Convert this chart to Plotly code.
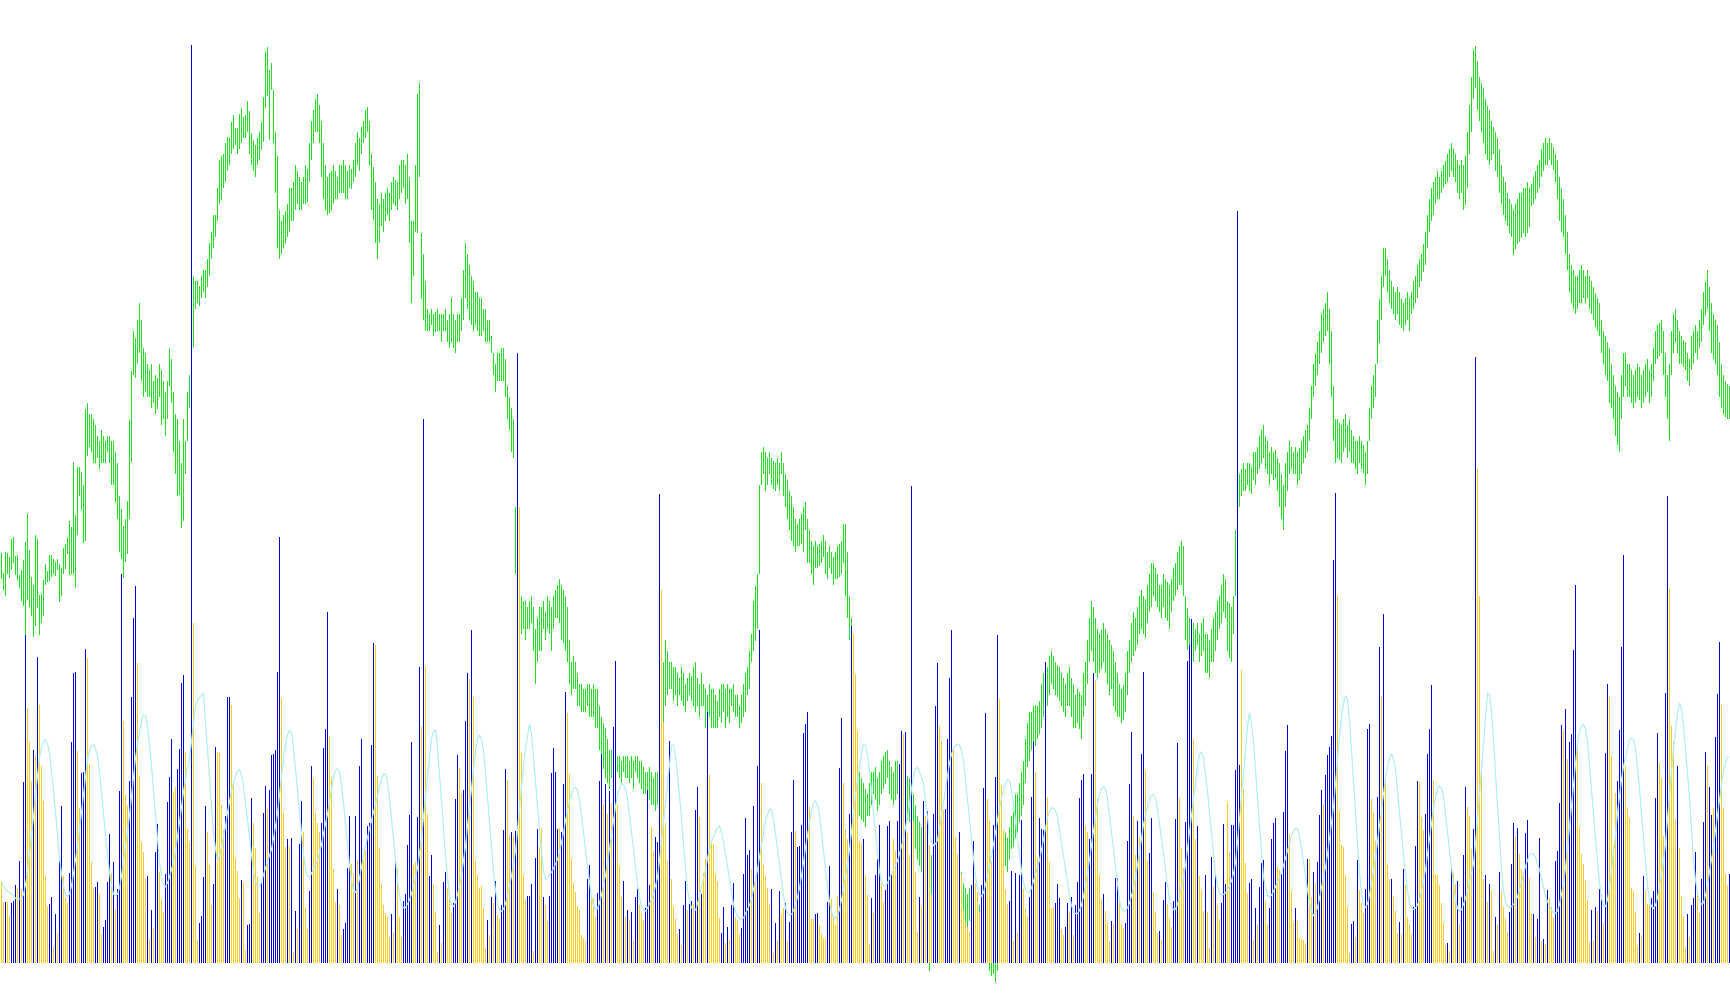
import plotly.graph_objects as go
import pandas as pd

# ---- volume histogram (one value per bar), colour code b = blue, y = yellow
volume = [
245,182,182,182,140,179,185,233,224,305,
221,542,983,765,662,545,638,623,917,773,
590,485,260,170,176,197,47,146,86,305,
470,260,194,179,269,662,869,872,635,464,
569,572,941,914,596,302,224,227,242,206,
86,107,128,242,386,269,302,161,221,515,
1166,725,503,473,545,797,1034,1130,899,560,
362,332,254,260,71,158,104,332,416,272,
191,152,266,482,557,671,512,527,581,641,
839,863,632,401,362,2753,1019,290,68,119,
140,257,470,392,293,173,236,647,632,629,
473,398,440,797,797,773,542,314,275,194,
248,242,38,113,116,494,419,344,260,149,
239,449,530,461,518,623,626,638,872,1277,
794,449,347,371,350,
374,32,155,101,356,485,392,164,101,215,
590,554,449,419,392,419,644,701,1052,680,
554,281,182,221,173,83,101,119,284,440,
296,269,440,305,590,671,308,335,410,419,
653,959,953,560,344,236,173,149,137,77,
146,89,311,281,137,77,185,206,353,443,
662,293,302,437,887,710,1631,890,446,260,
323,236,152,32,113,59,242,272,224,209,
149,179,491,623,584,509,518,725,869,851,
998,797,305,263,224,230,164,44,128,83,
197,179,245,143,131,173,398,581,548,383,
392,383,395,1829,1367,629,263,191,200,200,
236,35,314,401,347,404,197,173,125,200,
569,644,572,401,404,392,536,812,749,566,
311,239,212,170,158,
83,74,62,251,293,200,194,137,209,545,
626,476,536,446,515,479,707,905,473,290,
197,245,137,158,128,152,65,197,221,173,
149,128,164,518,233,407,335,377,362,1406,
1118,722,419,305,665,251,170,131,86,101,
53,173,245,158,176,185,176,458,527,437,
206,269,311,752,563,356,356,266,245,134,
88,167,59,107,68,173,239,137,128,86,
104,266,434,323,338,281,470,260,590,998,
539,293,260,224,176,221,29,119,65,215,
146,164,179,65,122,392,548,395,347,350,
413,689,716,752,467,131,131,146,149,113,
86,74,74,182,290,191,143,113,200,584,
734,539,401,371,446,1010,986,866,698,365,
359,371,263,203,56,
194,149,263,311,413,239,182,218,410,425,
266,371,335,425,596,695,686,692,389,323,
1430,422,272,92,197,170,485,440,455,353,
206,446,770,899,710,665,458,461,671,854,
998,641,377,326,392,266,158,122,107,92,
233,365,239,212,152,233,524,749,491,428,
306,413,557,983,791,533,398,221,176,185,
275,65,269,89,263,428,221,161,137,197,
497,662,572,314,434,401,398,902,497,302,
164,167,179,236,194,101,83,107,179,152,
197,83,173,242,494,548,566,413,392,371,
566,869,848,491,263,191,206,155,119,65,
125,116,254,254,188,116,104,119,365,536,
692,440,323,425,377,626,872,578,305,329,
434,212,152,89,95,
68,188,242,176,134,107,185,431,659,494,
344,284,422,905,953,1031,671,371,410,260,
218,155,263,152,44,317,230,263,173,131,
179,416,236,482,332,413,413,578,2255,593,
878,521,299,209,239,251,68,164,113,227,
299,308,185,113,164,371,419,434,287,278,
269,452,635,713,386,215,122,164,125,74,
71,68,59,311,308,197,272,239,302,443,
518,476,563,623,647,680,1208,1409,1103,455,
353,347,263,167,29,116,125,77,308,218,
179,149,221,701,716,491,452,365,497,947,
800,1046,548,293,251,251,200,155,89,122,
86,281,233,137,113,86,167,350,545,542,
437,398,446,626,701,833,548,266,263,233,
179,119,53,59,35,
284,269,236,245,116,197,323,527,467,440,
341,401,1817,1484,1100,599,251,263,182,236,
218,35,137,113,272,215,167,134,92,152,
296,419,380,404,326,281,272,389,428,254,
146,146,77,131,374,65,71,56,218,194,
167,137,305,335,479,713,698,761,611,662,
686,938,1133,662,407,326,296,248,188,62,
158,65,167,155,221,203,119,629,836,797,
620,353,509,545,698,947,1223,590,464,434,
224,215,152,50,89,83,260,215,176,173,
194,215,494,689,599,554,380,809,1400,1124,
710,662,431,590,344,200,137,47,146,77,
173,194,332,212,149,251,422,632,593,527,
443,464,677,806,962,773,464,266,233,266,
]

vol_color = (
"yybyybbbyb" "ybbyyybyby" "yyyybbybyb" "byyybbbbyy" "bbbyyyybby"
"ybbbbybybb" "byyybbbbyy" "yyybybybby" "yybbbbyybb" "bbyyybyyyb"
"bbbyyybbyy" "yybbbyyyyy" "byybbbyyyy" "bbbybbbbbb" "yyyby"
"bybybbyyyb" "byyyybbbby" "yyybyybbbb" "yybybbyybb" "bbyyyyyyyy"
"bybyyybbbb" "byybbybyyb" "byyybybbyy" "ybbbyybbby" "byyyyyyyby"
"bybyybbbyy" "bybbyyyybb" "bybbyybyyb" "bbbbybbbyy" "yyyyy"
"yyybbyyybb" "bybybybbyy" "ybybybybby" "yybbbyybbb" "yyyybyyyyb"
"ybbybbybby" "byybyyyyyy" "bbybybbyyy" "bbbbbybybb" "yyyyybybyb"
"yybybbbybb" "bbbbyyybby" "yyybbyyyyb" "byyybbyyyy" "ybyyy"
"bybbbyybbb" "byybbbybyy" "byyybybyby" "ybbbyyybbb" "byyybyyyyy"
"bbyyybbbyy" "ybbbyyyyyb" "bybybbyyyb" "bbyybbbbyy" "yybbbyybby"
"bybbbbbyyb" "bbyyyybyyy" "bybbyyybbb" "byybybbyyb" "byyyb"
"ybbyyybbby" "yybbbbyyby" "yybyybybyy" "bbbyybbbbb" "yyyybbybyb"
"bbyybbbbyy" "bbbbyyybyy" "yyybyybybb" "bybbbbbbyy" "yyyyybbyby"
"yybbbyyybb" "ybyyybyyyb" "ybyyyybbby" "yybbbbyyyy" "yyyby"
"byybybbbyy" "ybbyyyybyb" "yybybyyyyb" "bbybyyybby" "ybybbybyby"
"yybbbbybyb" "bbbyyyyyyy" "bybybbybby" "yyybbbbyyy" "yyyybybyyy"
"bbbbyyybby" "yyybyyyyby" "bbbyybbbyb" "bybbbyyyyb"
)

# ---- price bars, one high and one low per bar (price points)
price_high = [
410,392,411,410,406,422,424,407,408,390,
394,403,420,445,412,388,381,426,422,372,
373,385,400,393,408,408,404,402,404,400,
396,414,418,423,439,433,492,444,488,488,
483,471,540,546,536,536,531,526,516,511,
521,516,511,516,516,511,511,501,491,461,
450,434,441,457,530,575,611,605,621,636,
621,596,591,581,576,581,566,571,568,581,
576,566,556,566,596,586,556,536,531,511,
491,531,511,556,571,601,661,656,656,652,
661,666,666,676,691,701,716,716,741,766,
770,771,781,787,786,800,807,795,795,808,
813,805,807,819,810,790,784,780,786,791,
800,823,864,868,848,854,829,791,770,721,
711,716,720,726,741,741,746,761,756,751,
746,751,761,758,781,801,811,821,826,816,
801,781,761,751,754,756,761,756,751,761,
761,766,761,756,761,758,766,781,791,786,
796,801,811,814,801,771,760,746,731,726,
736,731,736,741,736,746,751,748,746,761,
766,766,761,771,751,711,711,761,826,836,
700,681,656,631,626,631,626,628,631,626,
626,626,631,621,626,641,626,621,626,626,
641,666,691,681,671,661,656,646,646,641,
641,631,631,621,621,606,591,581,591,591,
596,596,586,561,551,541,531,451,411,371,
371,366,366,361,366,371,361,341,351,361,
361,366,356,371,366,361,371,376,381,386,
381,376,371,361,331,311,316,311,301,291,
291,286,286,291,291,286,291,286,286,271,
261,256,251,241,231,231,226,231,226,226,
221,226,226,226,221,226,221,226,226,221,
221,216,211,211,216,211,206,211,211,221,
261,311,331,321,311,311,306,306,301,296,
306,301,291,296,301,298,306,311,296,291,
301,291,286,281,291,286,286,281,276,286,
291,291,286,291,286,286,291,281,281,271,
281,291,301,306,321,336,366,380,391,471,
501,506,501,496,501,496,493,491,496,491,
501,491,481,476,466,461,451,441,436,441,
445,451,456,441,431,421,416,421,416,418,
421,426,421,411,416,411,406,411,416,418,
421,436,436,411,371,351,311,231,221,211,
206,201,196,191,201,211,211,216,206,211,
221,226,229,231,221,216,211,221,221,211,
211,201,211,208,206,196,191,181,171,166,
161,151,146,146,141,136,141,141,136,131,
121,126,121,126,124,116,111,121,111,116,
121,111,106,101,106,108,111,101,96,91,
91,81,76,71,66,56,58,51,61,131,
141,151,156,151,161,171,175,191,191,201,
211,221,241,256,266,266,271,272,271,276,
291,301,311,306,316,321,316,311,308,306,
301,296,291,301,306,296,291,281,286,284,
281,301,311,331,351,366,361,351,341,336,
340,346,341,336,331,326,321,311,301,291,
286,290,301,321,331,346,356,351,361,371,
376,371,368,381,391,401,401,396,391,381,
381,391,386,383,381,386,396,401,411,416,
421,416,371,360,351,341,346,341,346,336,
346,351,336,336,331,341,351,356,366,371,
381,391,386,366,364,361,371,431,471,481,
486,491,486,491,491,488,501,501,506,516,
521,526,516,511,501,506,501,503,496,491,
481,471,491,501,511,506,501,506,501,505,
511,516,521,526,541,561,581,590,601,611,
626,631,636,646,631,611,561,531,531,528,
526,531,536,526,531,521,516,511,511,516,
511,508,501,511,541,561,571,581,621,640,
661,686,686,676,666,656,651,646,651,646,
640,636,641,646,641,646,656,661,671,676,
681,690,701,716,731,741,746,751,756,751,
756,761,765,771,776,781,776,771,766,761,
766,761,770,791,816,841,866,869,856,841,
836,831,821,815,811,801,796,791,786,776,
761,751,746,736,731,726,721,726,731,736,
736,741,741,746,741,744,751,756,761,766,
776,781,786,781,786,781,778,771,766,751,
741,731,716,701,681,671,666,661,661,666,
671,666,661,666,661,656,651,645,641,636,
621,611,606,601,596,581,571,561,556,551,
571,591,591,581,581,576,571,576,581,578,
571,576,581,586,576,581,596,611,616,618,
621,611,591,571,581,611,626,631,621,611,
606,603,601,591,586,606,611,616,611,621,
631,646,655,666,651,636,626,621,616,601,
581,571,566,563,561,
]

price_low = [
386,376,371,391,387,394,401,390,385,378,
366,362,334,367,361,353,334,344,360,335,
346,353,381,383,384,388,391,389,394,365,
371,391,395,409,390,391,391,378,426,461,
449,419,421,498,506,501,491,491,496,486,
491,491,491,501,491,471,471,456,441,411,
404,387,402,409,441,492,571,568,581,591,
566,551,556,551,551,541,546,536,540,551,
526,531,516,531,561,546,501,481,461,462,
432,439,481,511,541,566,596,631,636,634,
641,646,641,651,661,676,686,696,711,726,
730,741,746,756,761,771,776,780,771,776,
781,786,786,791,771,761,756,751,761,766,
775,782,813,824,784,829,781,736,686,676,
681,686,690,696,701,711,711,721,726,721,
721,726,726,728,746,766,781,791,791,781,
751,731,721,716,718,721,726,731,731,736,
736,736,731,731,741,740,746,751,761,756,
771,781,786,791,761,721,712,691,676,691,
706,701,711,716,711,721,726,724,721,731,
736,741,726,731,691,636,661,701,700,751,
640,621,611,611,611,616,606,610,611,611,
601,611,611,601,596,601,596,591,601,601,
611,621,641,631,621,616,611,616,611,606,
606,611,601,601,601,591,571,556,566,566,
566,566,551,531,521,501,496,391,366,336,
336,341,331,341,341,346,321,291,311,321,
321,341,331,341,336,321,341,351,351,346,
331,328,321,311,291,281,286,286,271,271,
266,266,266,271,261,261,261,251,251,231,
221,214,206,201,196,206,201,206,211,206,
201,211,206,206,201,206,196,211,206,201,
196,191,191,186,186,181,181,176,181,186,
221,251,271,281,286,286,276,281,271,281,
276,271,266,276,281,276,271,266,271,261,
271,271,251,246,261,251,251,251,251,261,
256,266,251,261,256,271,266,261,261,251,
256,261,266,281,286,311,321,330,341,391,
471,481,466,471,481,471,468,466,471,466,
481,461,451,441,431,421,416,411,416,416,
418,411,431,401,401,391,381,396,396,398,
401,406,391,386,396,391,381,386,386,388,
391,401,371,351,331,291,261,191,181,171,
168,166,161,171,171,181,191,186,176,181,
191,196,200,206,191,186,181,186,191,176,
171,166,171,168,166,156,151,141,131,126,
121,116,111,111,31,101,106,91,101,96,
86,96,91,96,92,81,81,86,81,86,
91,76,71,71,76,78,71,66,61,61,
66,56,51,41,31,26,28,21,31,101,
111,121,126,121,131,141,143,151,156,166,
171,181,201,216,221,231,231,235,241,246,
251,261,271,271,281,291,286,281,279,276,
271,266,261,271,271,261,251,251,256,250,
241,261,271,291,311,321,311,301,296,301,
305,311,301,291,281,286,271,266,261,261,
256,258,266,281,301,311,316,321,326,336,
341,336,333,346,356,361,371,366,361,356,
351,361,351,348,341,356,366,371,376,381,
381,371,331,322,311,301,311,321,326,311,
316,321,301,301,296,311,311,321,331,341,
346,356,351,321,315,311,336,371,441,451,
461,466,466,471,466,463,476,471,481,486,
491,496,486,481,471,481,476,478,466,451,
441,431,451,466,481,486,481,481,471,476,
481,491,496,501,511,531,551,561,571,581,
591,601,606,611,581,551,511,491,496,494,
491,501,506,496,501,491,491,486,481,491,
486,482,471,481,511,531,541,551,581,600,
621,651,661,646,636,631,626,621,626,616,
614,611,616,621,611,626,631,636,641,651,
656,664,671,686,701,711,716,726,731,731,
736,741,744,746,751,756,751,746,736,731,
736,721,725,741,771,791,821,831,811,801,
791,781,771,766,761,766,771,756,751,736,
726,716,711,706,700,696,680,685,690,692,
695,700,696,700,705,724,726,731,736,741,
751,756,761,761,766,761,757,746,731,711,
701,696,681,666,646,636,631,626,631,636,
636,641,636,641,631,626,621,615,611,606,
591,581,571,566,546,541,531,516,508,501,
531,551,561,551,551,546,541,546,551,548,
541,546,551,556,546,551,566,581,586,588,
591,571,551,531,511,571,591,601,591,581,
581,578,576,566,561,576,581,591,586,596,
601,616,625,631,611,591,586,581,571,551,
541,536,533,531,531,
]

n = min(len(volume), len(vol_color), len(price_high), len(price_low))
x = list(range(n))
blue = [volume[k] if vol_color[k] == "b" else None for k in range(n)]
yellow = [volume[k] if vol_color[k] == "y" else None for k in range(n)]
avg = (pd.Series(volume[:n], dtype=float)
       .rolling(7, min_periods=1).mean()
       .rolling(7, min_periods=1).mean())

BAR_W = 0.46
fig = go.Figure()
fig.add_trace(go.Bar(x=x, y=[price_high[k] - price_low[k] for k in range(n)], base=price_low[:n],
                     width=BAR_W, marker=dict(color="#1EE01E", line=dict(width=0)),
                     yaxis="y", hoverinfo="skip"))
fig.add_trace(go.Bar(x=x, y=blue, width=BAR_W, marker=dict(color="#0000DD", line=dict(width=0)),
                     yaxis="y2", hoverinfo="skip"))
fig.add_trace(go.Bar(x=x, y=yellow, width=BAR_W, marker=dict(color="#FFCC11", line=dict(width=0)),
                     yaxis="y2", hoverinfo="skip"))
fig.add_trace(go.Scatter(x=x, y=avg, mode="lines", line=dict(color="#AFEEEE", width=1.2),
                         yaxis="y2", hoverinfo="skip"))

fig.update_layout(
    width=1730, height=1005, margin=dict(l=0, r=0, t=0, b=0),
    paper_bgcolor="white", plot_bgcolor="white", barmode="overlay", showlegend=False,
    hovermode=False,
    xaxis=dict(range=[-0.75, 864.25], visible=False),
    yaxis=dict(range=[0, 911], visible=False),
    yaxis2=dict(range=[-127, 2888], overlaying="y", visible=False),
)
fig.write_html(
    "out.html", config={"displayModeBar": False},
    post_script=("document.body.style.margin='0';"
                 "document.querySelectorAll('.bars path').forEach(function(p){"
                 "p.style.shapeRendering='crispEdges';});"),
)
